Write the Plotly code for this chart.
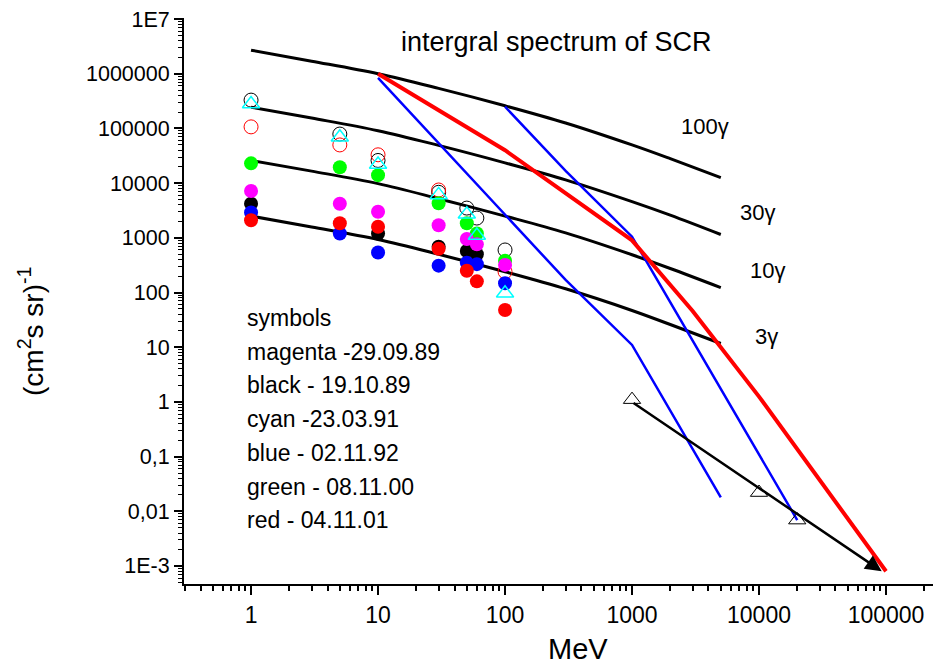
import math
import plotly.graph_objects as go

# ---------------- data ----------------
# integral spectrum curves (gamma multiples)
curve_E = [1, 3, 10, 30, 100, 300, 1000, 2000, 5000]
g100 = [2.7e6, 1.7e6, 1.0e6, 5.4e5, 2.6e5, 1.26e5, 5.0e4, 2.8e4, 1.26e4]
g30 = [2.45e5, 1.55e5, 9.1e4, 4.9e4, 2.35e4, 1.15e4, 4.6e3, 2.6e3, 1.15e3]
g10 = [2.6e4, 1.66e4, 9.8e3, 5.2e3, 2.5e3, 1.23e3, 490, 275, 123]
g3 = [2500, 1580, 930, 500, 240, 117, 47, 26, 11.7]

# red model line
red_E = [10, 100, 1000, 3000, 10000, 100000]
red_F = [1.0e6, 4.0e4, 900, 46, 1.25, 8e-4]

# blue model lines
blue1_E = [10, 100, 300, 1000, 5000]
blue1_F = [8.4e5, 2.6e3, 170, 11, 0.018]
blue2_E = [100, 300, 1000, 20000]
blue2_F = [2.5e5, 1.67e4, 1050, 0.0069]

# measured points
E = [1, 5, 10, 30, 50, 60, 100]
black_open = [3.3e5, 7.9e4, 2.6e4, 6.8e3, 3.5e3, 2.3e3, 600]
red_open = [1.07e5, 5.0e4, 3.3e4, 7.5e3, None, None, 240]
black_fill = [4.2e3, None, 1.2e3, 690, 575, 500, None]
blue_fill = [2.9e3, 1.2e3, 540, 310, 350, 330, 148]
red_fill = [2.1e3, 1.85e3, 1.6e3, 630, 250, 160, 48]
green_fill = [2.3e4, 1.95e4, 1.4e4, 4.3e3, 1.85e3, 1.2e3, 380]
magenta_fill = [7.2e3, 4.2e3, 3.0e3, 1.7e3, 950, 760, 320]
cyan_tri = [2.8e5, 6.9e4, 2.2e4, 6.1e3, 2.7e3, 1.1e3, 97]

# high-energy points and arrow
hi_E = [1000, 10000, 20000]
hi_F = [1.1, 0.022, 0.0069]
arrow_E = [1000, 92500]
arrow_F = [1.0, 8e-4]

# axis ticks
y_tickvals = [1e-3, 1e-2, 1e-1, 1, 10, 100, 1e3, 1e4, 1e5, 1e6, 1e7]
y_ticktext = ['1E-3', '0,01', '0,1', '1', '10', '100', '1000', '10000',
              '100000', '1000000', '1E7']
x_tickvals = [1, 10, 100, 1000, 10000, 100000]
x_ticktext = ['1', '10', '100', '1000', '10000', '100000']

legend_lines = ['symbols', 'magenta -29.09.89', 'black - 19.10.89',
                'cyan -23.03.91', 'blue - 02.11.92', 'green - 08.11.00',
                'red - 04.11.01']

FONT = 'Liberation Sans, Arial, sans-serif'

fig = go.Figure()

for ys in (g100, g30, g10, g3):
    fig.add_trace(go.Scatter(x=curve_E, y=ys, mode='lines',
                             line=dict(color='black', width=3, shape='spline'),
                             showlegend=False, hoverinfo='skip'))

fig.add_trace(go.Scatter(x=blue1_E, y=blue1_F, mode='lines',
                         line=dict(color='#0000ff', width=2.5), showlegend=False))
fig.add_trace(go.Scatter(x=blue2_E, y=blue2_F, mode='lines',
                         line=dict(color='#0000ff', width=2.5), showlegend=False))
fig.add_trace(go.Scatter(x=red_E, y=red_F, mode='lines',
                         line=dict(color='#ff0000', width=4), showlegend=False))


def pts(ys, symbol, color, size=13, lw=1):
    fig.add_trace(go.Scatter(
        x=E, y=ys, mode='markers', showlegend=False,
        marker=dict(symbol=symbol, size=size, color=color,
                    line=dict(color=color, width=lw))))


pts(black_open, 'circle-open', 'black', 14, 1)
pts(red_open, 'circle-open', '#ff0000', 14, 1)
pts(black_fill, 'circle', 'black', 14, 0)
pts(blue_fill, 'circle', '#0000ff', 14, 0)
pts(red_fill, 'circle', '#ff0000', 14, 0)
pts(green_fill, 'circle', '#00ff00', 14, 0)
pts(magenta_fill, 'circle', '#ff00ff', 14, 0)
pts(cyan_tri, 'triangle-up-open', '#00ffff', 15, 1.5)

fig.add_trace(go.Scatter(x=hi_E, y=hi_F, mode='markers', showlegend=False,
                         marker=dict(symbol='triangle-up-open', size=15,
                                     color='black', line=dict(color='black', width=1))))

# plot area in the reference picture: x 184..941, y 18..584
PX0, PW, PY1, PH = 184, 757, 584, 566


def txt(text, x, y, size, ref='paper', **kw):
    d = dict(x=x, y=y, xref=ref, yref=ref, text=text, showarrow=False,
             xanchor='center', yanchor='middle',
             font=dict(size=size, color='black', family=FONT))
    d.update(kw)
    return d


annotations = [
    dict(x=math.log10(arrow_E[1]), y=math.log10(arrow_F[1]),
         ax=math.log10(arrow_E[0]), ay=math.log10(arrow_F[0]),
         xref='x', yref='y', axref='x', ayref='y', text='',
         showarrow=True, arrowhead=2, arrowsize=1.3, arrowwidth=2.5,
         arrowcolor='black'),
    txt('intergral spectrum of SCR', (556 - PX0) / PW, (PY1 - 42) / PH, 27),
    txt('100γ', 3.575, 5.03, 22, ref=None, xref='x', yref='y'),
    txt('30γ', 3.99, 3.46, 22, ref=None, xref='x', yref='y'),
    txt('10γ', 4.07, 2.41, 22, ref=None, xref='x', yref='y'),
    txt('3γ', 4.06, 1.2, 22, ref=None, xref='x', yref='y'),
    txt('(cm<sup>2</sup>s sr)<sup>-1</sup>', (31 - PX0) / PW, (PY1 - 332) / PH, 28,
        textangle=-90),
    txt('MeV', (578 - PX0) / PW, (PY1 - 649) / PH, 29),
]
for a in annotations:
    if a.get('xref') is None:
        a.pop('xref'); a.pop('yref')
for i, t in enumerate(legend_lines):
    annotations.append(txt(t, (245 - PX0) / PW, (PY1 - (318 + 33.7 * i)) / PH, 23,
                           xanchor='left'))

x_minor = [k * 10 ** d for d in range(-1, 6) for k in range(2, 10)]
y_minor = [k * 10 ** d for d in range(-4, 7) for k in range(2, 10)]

# the page body adds an 8 px offset, so margins are reduced by 8
fig.update_layout(
    width=933, height=657,
    margin=dict(l=176, r=0, t=10, b=81),
    paper_bgcolor='white', plot_bgcolor='white',
    font=dict(family=FONT, color='black'),
    annotations=annotations,
    xaxis=dict(type='log', range=[-0.528, 5.433], showgrid=False, zeroline=False,
               showline=True, linecolor='black', linewidth=2,
               ticks='outside', ticklen=9, tickwidth=2, tickcolor='black',
               tickmode='array', tickvals=x_tickvals, ticktext=x_ticktext,
               ticklabeloverflow='allow',
               tickfont=dict(size=23, family=FONT, color='black'),
               minor=dict(tickmode='array', tickvals=x_minor, ticks='outside',
                          ticklen=5, tickwidth=1.5, tickcolor='black', showgrid=False)),
    yaxis=dict(type='log', range=[-3.33, 7.02], showgrid=False, zeroline=False,
               showline=True, linecolor='black', linewidth=2,
               ticks='outside', ticklen=8, tickwidth=2, tickcolor='black',
               tickmode='array', tickvals=y_tickvals, ticktext=y_ticktext,
               ticklabeloverflow='allow',
               tickfont=dict(size=21.5, family=FONT, color='black'),
               minor=dict(tickmode='array', tickvals=y_minor, ticks='outside',
                          ticklen=4, tickwidth=1, tickcolor='black', showgrid=False)),
)

fig.write_html('out.html')
